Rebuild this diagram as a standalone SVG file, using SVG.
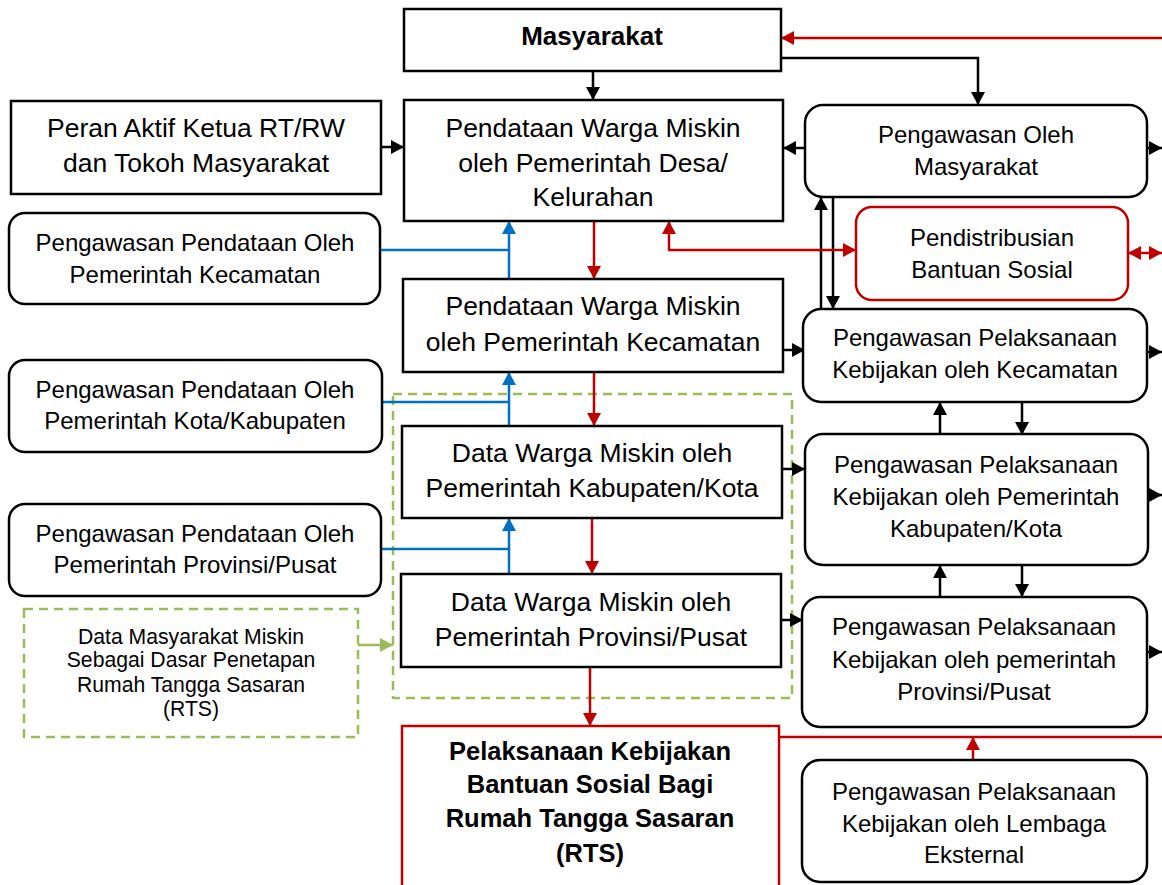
<svg xmlns="http://www.w3.org/2000/svg" width="1162" height="885" viewBox="0 0 1162 885">
<style>
text{font-family:"Liberation Sans",Arial,sans-serif;fill:#000;text-anchor:middle}
.big{font-size:26.5px}
.mid{font-size:24px}
.sm{font-size:21.2px}
.bold{font-size:25.5px;font-weight:bold}
.box{fill:#fff;stroke:#000;stroke-width:2.5}
.rbox{fill:#fff;stroke:#C00000;stroke-width:2.5}
.gbox{fill:none;stroke:#9BBB59;stroke-width:2.5;stroke-dasharray:9 6}
.k{fill:none;stroke:#000;stroke-width:2.5;marker-end:url(#ak)}
.r{fill:none;stroke:#C00000;stroke-width:2.5;marker-end:url(#ar)}
.r2{fill:none;stroke:#C00000;stroke-width:2.5;marker-end:url(#ar);marker-start:url(#ar)}
.rl{fill:none;stroke:#C00000;stroke-width:2.5}
.b{fill:none;stroke:#0070C0;stroke-width:2.5;marker-end:url(#ab)}
.bl{fill:none;stroke:#0070C0;stroke-width:2.5}
.g{fill:none;stroke:#9BBB59;stroke-width:2.5;marker-end:url(#ag)}
</style>
<defs>
<marker id="ak" markerUnits="userSpaceOnUse" markerWidth="14" markerHeight="14" refX="13" refY="7" orient="auto-start-reverse"><path d="M0,0 L13,7 L0,14 z" fill="#000"/></marker>
<marker id="ar" markerUnits="userSpaceOnUse" markerWidth="14" markerHeight="14" refX="13" refY="7" orient="auto-start-reverse"><path d="M0,0 L13,7 L0,14 z" fill="#C00000"/></marker>
<marker id="ab" markerUnits="userSpaceOnUse" markerWidth="14" markerHeight="14" refX="13" refY="7" orient="auto-start-reverse"><path d="M0,0 L13,7 L0,14 z" fill="#0070C0"/></marker>
<marker id="ag" markerUnits="userSpaceOnUse" markerWidth="14" markerHeight="14" refX="13" refY="7" orient="auto-start-reverse"><path d="M0,0 L13,7 L0,14 z" fill="#9BBB59"/></marker>
</defs>
<rect width="1162" height="885" fill="#fff"/>

<g id="group-data">
<rect class="gbox" x="393" y="394" width="399" height="304"/>
</g>

<g id="connectors">
<path class="k" d="M593,71 V100"/>
<path class="k" d="M781,58 H978 V105"/>
<path class="r" d="M1162,38 H781"/>
<path class="k" d="M381,147 H404"/>
<path class="k" d="M805,148 H783"/>
<path class="k" d="M1147,148 H1162"/>
<path class="k" d="M821,309 V197"/>
<path class="k" d="M833,197 V309"/>
<path class="r" d="M594,221 V279"/>
<path class="r2" d="M669,221 V250 H856"/>
<path class="r2" d="M1128,253 H1162"/>
<path class="bl" d="M380,250 H509"/>
<path class="b" d="M509,279 V221"/>
<path class="k" d="M783,350 H805"/>
<path class="k" d="M1147,352 H1162"/>
<path class="r" d="M594,372 V426"/>
<path class="bl" d="M382,402 H509"/>
<path class="b" d="M509,426 V372"/>
<path class="k" d="M782,469 H805"/>
<path class="k" d="M1148,495 H1162"/>
<path class="k" d="M940,435 V402"/>
<path class="k" d="M1022,402 V435"/>
<path class="r" d="M592,518 V574"/>
<path class="bl" d="M381,549 H509"/>
<path class="b" d="M509,574 V518"/>
<path class="k" d="M781,620 H803"/>
<path class="k" d="M1147,652 H1162"/>
<path class="k" d="M940,597 V565"/>
<path class="k" d="M1022,565 V597"/>
<path class="r" d="M590,667 V726"/>
<path class="g" d="M358,645 H393"/>
<path class="rl" d="M779,737 H1162"/>
<path class="r" d="M973,760 V737"/>
</g>

<g id="masyarakat">
<rect class="box" x="404" y="9" width="377" height="62"/>
<text class="bold" x="592" y="45" style="font-size:26px">Masyarakat</text>
</g>

<g id="peran-aktif">
<rect class="box" x="11" y="101" width="370" height="93"/>
<text class="big" x="196" y="137">Peran Aktif Ketua RT/RW</text>
<text class="big" x="196" y="172">dan Tokoh Masyarakat</text>
</g>

<g id="pendataan-desa">
<rect class="box" x="404" y="100" width="379" height="121"/>
<text class="big" x="593" y="137">Pendataan Warga Miskin</text>
<text class="big" x="593" y="172">oleh Pemerintah Desa/</text>
<text class="big" x="593" y="206">Kelurahan</text>
</g>

<g id="pengawasan-pendataan-kecamatan">
<rect class="box" x="9" y="213" width="371" height="91" rx="16"/>
<text class="mid" x="195" y="251">Pengawasan Pendataan Oleh</text>
<text class="mid" x="195" y="283">Pemerintah Kecamatan</text>
</g>

<g id="pendataan-kecamatan">
<rect class="box" x="403" y="279" width="380" height="93"/>
<text class="big" x="593" y="315">Pendataan Warga Miskin</text>
<text class="big" x="593" y="351">oleh Pemerintah Kecamatan</text>
</g>

<g id="pengawasan-pendataan-kota">
<rect class="box" x="9" y="360" width="373" height="92" rx="16"/>
<text class="mid" x="195" y="398">Pengawasan Pendataan Oleh</text>
<text class="mid" x="195" y="429">Pemerintah Kota/Kabupaten</text>
</g>

<g id="data-kabupaten">
<rect class="box" x="402" y="426" width="380" height="92"/>
<text class="big" x="592" y="462">Data Warga Miskin oleh</text>
<text class="big" x="592" y="497">Pemerintah Kabupaten/Kota</text>
</g>

<g id="pengawasan-pendataan-provinsi">
<rect class="box" x="9" y="504" width="372" height="92" rx="16"/>
<text class="mid" x="195" y="542">Pengawasan Pendataan Oleh</text>
<text class="mid" x="195" y="573">Pemerintah Provinsi/Pusat</text>
</g>

<g id="data-provinsi">
<rect class="box" x="401" y="574" width="380" height="93"/>
<text class="big" x="591" y="611">Data Warga Miskin oleh</text>
<text class="big" x="591" y="646">Pemerintah Provinsi/Pusat</text>
</g>

<g id="data-masyarakat-miskin">
<rect class="gbox" x="24" y="609" width="334" height="128"/>
<text class="sm" x="191" y="644">Data Masyarakat Miskin</text>
<text class="sm" x="191" y="667">Sebagai Dasar Penetapan</text>
<text class="sm" x="191" y="692">Rumah Tangga Sasaran</text>
<text class="sm" x="191" y="716">(RTS)</text>
</g>

<g id="pelaksanaan-kebijakan">
<rect class="rbox" x="402" y="726" width="377" height="175"/>
<text class="bold" x="590" y="760">Pelaksanaan Kebijakan</text>
<text class="bold" x="590" y="793">Bantuan Sosial Bagi</text>
<text class="bold" x="590" y="827">Rumah Tangga Sasaran</text>
<text class="bold" x="590" y="862">(RTS)</text>
</g>

<g id="pengawasan-masyarakat">
<rect class="box" x="805" y="105" width="342" height="92" rx="18"/>
<text class="mid" x="976" y="143">Pengawasan Oleh</text>
<text class="mid" x="976" y="175">Masyarakat</text>
</g>

<g id="pendistribusian">
<rect class="rbox" x="856" y="207" width="272" height="93" rx="16"/>
<text class="mid" x="992" y="246">Pendistribusian</text>
<text class="mid" x="992" y="278">Bantuan Sosial</text>
</g>

<g id="pengawasan-kecamatan">
<rect class="box" x="803" y="309" width="344" height="93" rx="18"/>
<text class="mid" x="975" y="346">Pengawasan Pelaksanaan</text>
<text class="mid" x="975" y="378">Kebijakan oleh Kecamatan</text>
</g>

<g id="pengawasan-kabupaten">
<rect class="box" x="805" y="434" width="343" height="131" rx="18"/>
<text class="mid" x="976" y="473">Pengawasan Pelaksanaan</text>
<text class="mid" x="976" y="505">Kebijakan oleh Pemerintah</text>
<text class="mid" x="976" y="537">Kabupaten/Kota</text>
</g>

<g id="pengawasan-provinsi">
<rect class="box" x="802" y="597" width="345" height="130" rx="18"/>
<text class="mid" x="974" y="635">Pengawasan Pelaksanaan</text>
<text class="mid" x="974" y="668">Kebijakan oleh pemerintah</text>
<text class="mid" x="974" y="700">Provinsi/Pusat</text>
</g>

<g id="pengawasan-lembaga">
<rect class="box" x="802" y="760" width="345" height="122" rx="18"/>
<text class="mid" x="974" y="800">Pengawasan Pelaksanaan</text>
<text class="mid" x="974" y="832">Kebijakan oleh Lembaga</text>
<text class="mid" x="974" y="863">Eksternal</text>
</g>
</svg>
